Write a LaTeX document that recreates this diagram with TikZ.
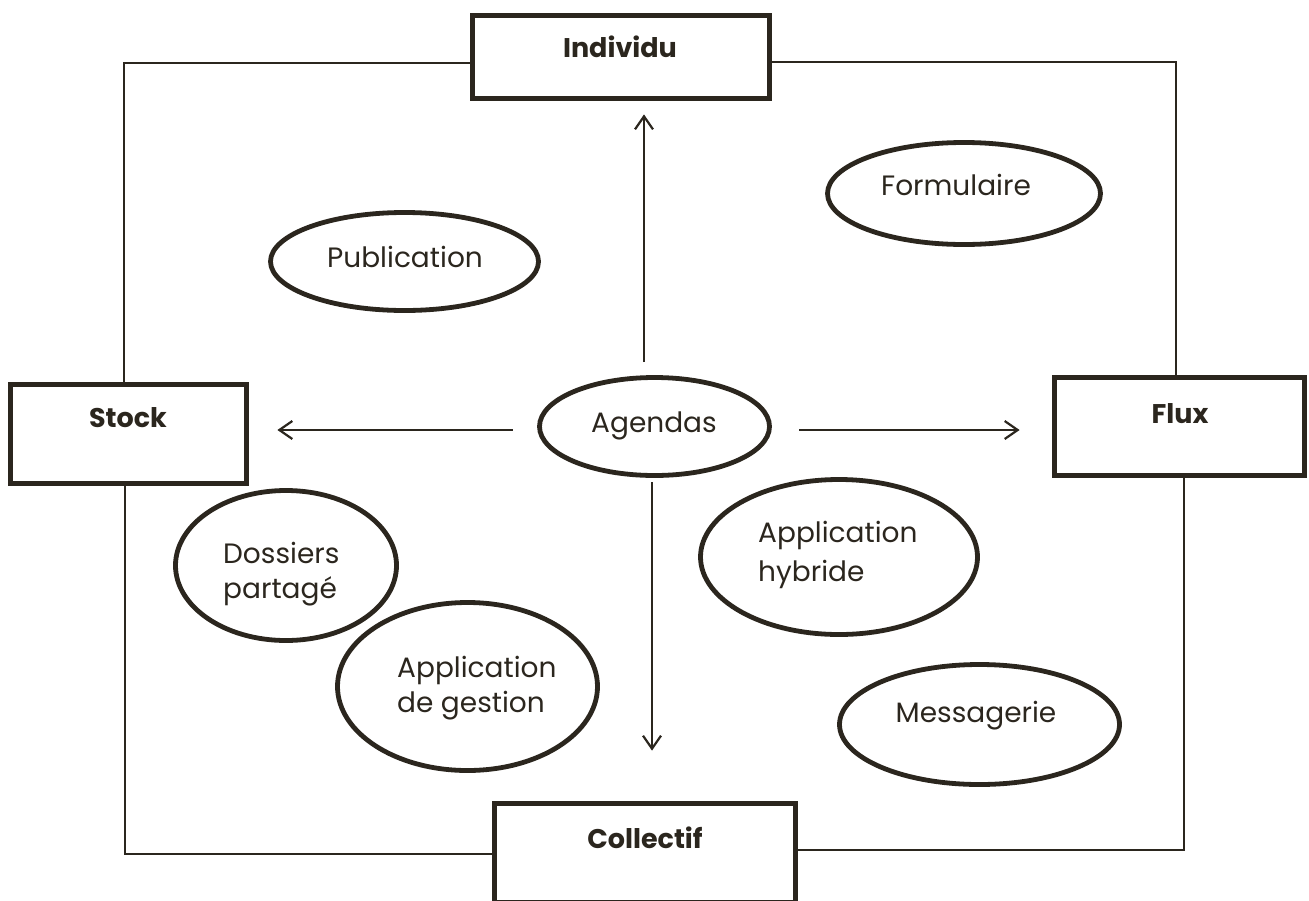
\documentclass[tikz,border=0pt]{standalone}
\usepackage{fontspec}
\setmainfont{Poppins}
\usetikzlibrary{shapes.geometric,arrows.meta}
\definecolor{ink}{RGB}{43,38,30}
% two lines of text whose baseline is the first line's
\newcommand\stackpair[3]{\vtop{\baselineskip=#1pt\hbox{#2}\hbox{#3}}}
\begin{document}
\begin{tikzpicture}[x=1pt,y=-1pt,
  box/.style={draw=ink,line width=4.8pt,rectangle,inner sep=0pt},
  oval/.style={draw=ink,line width=4.8pt,ellipse,inner sep=0pt},
  tag/.style={font=\fontsize{28}{34}\selectfont,text=ink,inner sep=0pt},
  head/.style={font=\fontsize{27}{32}\selectfont\bfseries,text=ink,inner sep=0pt,anchor=base},
  link/.style={draw=ink,line width=2.2pt},
  arr/.style={link,-{Straight Barb[length=13pt,width=18pt,line width=2.2pt]}},
]
\useasboundingbox (0,0) rectangle (1309,900);

% category boxes
\node[box,minimum width=297pt,minimum height=83pt] (individu) at (621,57) {};
\node[box,minimum width=236pt,minimum height=99pt] (stock) at (128.5,434) {};
\node[box,minimum width=250pt,minimum height=98pt] (flux) at (1179.5,426.5) {};
\node[box,minimum width=301pt,minimum height=99pt] (collectif) at (645,853) {};
\node[head] (individu-t) at (620,57) {Individu};
\node[head] (stock-t) at (128,427) {Stock};
\node[head] (flux-t) at (1180,423) {Flux};
\node[head] (collectif-t) at (645,848) {Collectif};

% tools
\node[oval,minimum width=268pt,minimum height=98pt] (publication) at (404.5,261.5) {};
\node[oval,minimum width=273pt,minimum height=102pt] (formulaire) at (964,193.5) {};
\node[oval,minimum width=230pt,minimum height=98pt] (agendas) at (654.5,426.5) {};
\node[oval,minimum width=221pt,minimum height=150pt] (dossiers) at (286,565.5) {};
\node[oval,minimum width=260pt,minimum height=168pt] (gestion) at (467.5,686.5) {};
\node[oval,minimum width=277pt,minimum height=155pt] (hybride) at (839,557) {};
\node[oval,minimum width=280pt,minimum height=120pt] (messagerie) at (979.5,724.5) {};

\node[tag,anchor=base] (publication-t) at (405,267) {Publication};
\node[tag,anchor=base] (formulaire-t) at (956,195) {Formulaire};
\node[tag,anchor=base] (agendas-t) at (654,432) {Agendas};
\node[tag,anchor=base] (messagerie-t) at (976,722) {Messagerie};
\node[tag,anchor=base west] (dossiers-t) at (223,563) {\stackpair{35}{Dossiers}{partagé}};
\node[tag,anchor=base west] (gestion-t) at (397,677) {\stackpair{35}{Application}{de gestion}};
\node[tag,anchor=base west] (hybride-t) at (758,542) {\stackpair{39}{Application}{hybride}};

% frame linking the four boxes
\draw[link] ([yshift=-6pt]individu.west) -| ([xshift=-4.5pt]stock.north);
\draw[link] ([yshift=-5pt]individu.east) -| ([xshift=-3.5pt]flux.north);
\draw[link] ([xshift=-3.5pt]stock.south) |- ([yshift=-1pt]collectif.west);
\draw[link] ([yshift=3pt]collectif.east) -| ([xshift=4.5pt]flux.south);

% axes from the centre
\coordinate (upfoot) at ([xshift=-10.5pt,yshift=13pt]agendas.north);
\coordinate (downfoot) at ([xshift=-2.5pt,yshift=-4.5pt]agendas.south);
\coordinate (leftfoot) at ([xshift=-24.5pt,yshift=-3.5pt]agendas.west);
\coordinate (rightfoot) at ([xshift=27.5pt,yshift=-3.5pt]agendas.east);
\draw[arr,shorten >=13.5pt] (upfoot) -- (upfoot |- individu.south);
\draw[arr,shorten >=50.5pt] (downfoot) -- (downfoot |- collectif.north);
\draw[arr,shorten >=28.5pt] (leftfoot) -- (leftfoot -| stock.east);
\draw[arr,shorten >=32.5pt] (rightfoot) -- (rightfoot -| flux.west);
\end{tikzpicture}
\end{document}
